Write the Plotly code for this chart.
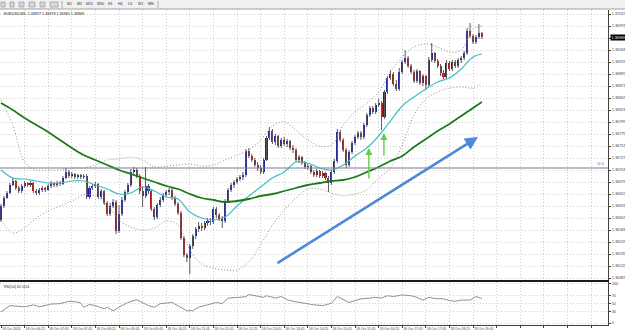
import plotly.graph_objects as go

W, H = 625, 333

# ---------------- data (EURUSD, M5, 18 Oct 2013) ----------------
first_open = 1.36603
close = [
    1.36631, 1.36647, 1.36657, 1.36673, 1.36681, 1.36667, 1.36661, 1.36671, 1.36677, 1.36673,
    1.36677, 1.36661, 1.36657, 1.36663, 1.36667, 1.36663, 1.36671, 1.36677, 1.36673, 1.36677,
    1.36675, 1.36687, 1.36699, 1.36691, 1.36695, 1.36689, 1.36693, 1.36689, 1.36691, 1.36649,
    1.36667, 1.36671, 1.36675, 1.36649, 1.36661, 1.36637, 1.36615, 1.36631, 1.36639, 1.36581,
    1.36615, 1.36643, 1.36659, 1.36673, 1.36699, 1.36703, 1.36691, 1.36661, 1.36651, 1.36671,
    1.36661, 1.36625, 1.36609, 1.36633, 1.36643, 1.36653, 1.36659, 1.36663, 1.36647, 1.36635,
    1.36617, 1.36567, 1.36533, 1.36527, 1.36551, 1.36571, 1.36585, 1.36591, 1.36587, 1.36597,
    1.36601, 1.36599, 1.36625, 1.36613, 1.36605, 1.36601, 1.36641, 1.36663, 1.36673, 1.36679,
    1.36685, 1.36689, 1.36693, 1.36741, 1.36731, 1.36723, 1.36713, 1.36707, 1.36699, 1.36723,
    1.36767, 1.36781, 1.36759, 1.36771, 1.36751, 1.36763, 1.36755, 1.36761, 1.36747, 1.36743,
    1.36723, 1.36729, 1.36717, 1.36709, 1.36711, 1.36699, 1.36693, 1.36701, 1.36691, 1.36697,
    1.36687, 1.36677, 1.36699, 1.36721, 1.36779, 1.36763, 1.36743, 1.36713, 1.36739, 1.36757,
    1.36769, 1.36777, 1.36769, 1.36793, 1.36813, 1.36827, 1.36819, 1.36833, 1.36837, 1.36809,
    1.36859, 1.36887, 1.36895, 1.36875, 1.36865, 1.36899, 1.36919, 1.36927, 1.36911, 1.36899,
    1.36881, 1.36901, 1.36877, 1.36891, 1.36873, 1.36923, 1.36937, 1.36921, 1.36911, 1.36897,
    1.36889, 1.36917, 1.36905, 1.36919, 1.36911, 1.36923, 1.36927, 1.36937, 1.36981, 1.36971,
    1.36959, 1.36969, 1.36977, 1.36969,
]
high = [
    1.36635, 1.36651, 1.36661, 1.36677, 1.36687, 1.36683, 1.36671, 1.36675, 1.36681, 1.36679,
    1.36681, 1.36679, 1.36665, 1.36667, 1.36671, 1.36669, 1.36675, 1.36681, 1.36679, 1.36681,
    1.36681, 1.36691, 1.36707, 1.36703, 1.36699, 1.36697, 1.36695, 1.36695, 1.36695, 1.36695,
    1.36671, 1.36675, 1.36679, 1.36677, 1.36665, 1.36663, 1.36641, 1.36637, 1.36645, 1.36643,
    1.36633, 1.36649, 1.36663, 1.36677, 1.36705, 1.36709, 1.36707, 1.36695, 1.36671, 1.36709,
    1.36675, 1.36665, 1.36629, 1.36637, 1.36649, 1.36657, 1.36663, 1.36667, 1.36667, 1.36651,
    1.36639, 1.36621, 1.36571, 1.36537, 1.36555, 1.36575, 1.36589, 1.36599, 1.36597, 1.36601,
    1.36607, 1.36607, 1.36629, 1.36629, 1.36617, 1.36611, 1.36645, 1.36667, 1.36677, 1.36683,
    1.36689, 1.36693, 1.36699, 1.36745, 1.36747, 1.36735, 1.36727, 1.36719, 1.36713, 1.36727,
    1.36771, 1.36789, 1.36785, 1.36775, 1.36773, 1.36767, 1.36769, 1.36765, 1.36763, 1.36753,
    1.36747, 1.36733, 1.36731, 1.36721, 1.36715, 1.36713, 1.36703, 1.36705, 1.36703, 1.36701,
    1.36699, 1.36691, 1.36703, 1.36725, 1.36785, 1.36783, 1.36767, 1.36747, 1.36743, 1.36761,
    1.36773, 1.36781, 1.36781, 1.36797, 1.36817, 1.36831, 1.36831, 1.36837, 1.36845, 1.36841,
    1.36863, 1.36891, 1.36903, 1.36899, 1.36883, 1.36907, 1.36923, 1.36943, 1.36931, 1.36915,
    1.36903, 1.36905, 1.36903, 1.36895, 1.36893, 1.36929, 1.36957, 1.36939, 1.36925, 1.36915,
    1.36903, 1.36923, 1.36921, 1.36923, 1.36923, 1.36927, 1.36931, 1.36941, 1.36987, 1.36997,
    1.36975, 1.36973, 1.36995, 1.36979,
]
low = [
    1.36599, 1.36627, 1.36645, 1.36655, 1.36671, 1.36663, 1.36657, 1.36657, 1.36667, 1.36669,
    1.36669, 1.36657, 1.36653, 1.36653, 1.36659, 1.36659, 1.36661, 1.36667, 1.36669, 1.36669,
    1.36671, 1.36673, 1.36685, 1.36687, 1.36687, 1.36685, 1.36685, 1.36685, 1.36685, 1.36645,
    1.36645, 1.36663, 1.36667, 1.36645, 1.36645, 1.36633, 1.36611, 1.36611, 1.36627, 1.36575,
    1.36577, 1.36611, 1.36639, 1.36655, 1.36669, 1.36693, 1.36687, 1.36655, 1.36629, 1.36647,
    1.36655, 1.36621, 1.36603, 1.36605, 1.36629, 1.36639, 1.36649, 1.36653, 1.36643, 1.36631,
    1.36613, 1.36563, 1.36529, 1.36519, 1.36495, 1.36545, 1.36565, 1.36579, 1.36581, 1.36583,
    1.36591, 1.36593, 1.36595, 1.36607, 1.36601, 1.36587, 1.36597, 1.36637, 1.36659, 1.36667,
    1.36675, 1.36681, 1.36683, 1.36689, 1.36727, 1.36719, 1.36709, 1.36701, 1.36695, 1.36695,
    1.36721, 1.36763, 1.36755, 1.36753, 1.36747, 1.36747, 1.36751, 1.36749, 1.36743, 1.36737,
    1.36719, 1.36717, 1.36713, 1.36705, 1.36703, 1.36695, 1.36689, 1.36689, 1.36687, 1.36687,
    1.36683, 1.36659, 1.36673, 1.36695, 1.36717, 1.36759, 1.36739, 1.36707, 1.36709, 1.36735,
    1.36753, 1.36765, 1.36763, 1.36765, 1.36789, 1.36809, 1.36815, 1.36815, 1.36829, 1.36783,
    1.36805, 1.36855, 1.36883, 1.36871, 1.36861, 1.36861, 1.36895, 1.36915, 1.36907, 1.36895,
    1.36877, 1.36877, 1.36873, 1.36871, 1.36863, 1.36869, 1.36919, 1.36917, 1.36907, 1.36891,
    1.36885, 1.36885, 1.36901, 1.36901, 1.36907, 1.36907, 1.36917, 1.36923, 1.36933, 1.36967,
    1.36955, 1.36955, 1.36965, 1.36965,
]
open_ = [first_open] + close[:-1]

# indicator readings, one every 4 bars (+ last bar)
ind_bars = [0, 4, 8, 12, 16, 20, 24, 28, 32, 36, 40, 44, 48, 52, 56, 60, 64, 68, 72, 76, 80,
            84, 88, 92, 96, 100, 104, 108, 112, 116, 120, 124, 128, 132, 136, 140, 144, 148,
            152, 156, 160, 163]
ma_slow = [1.36837, 1.36823, 1.36807, 1.36793, 1.36779, 1.36763, 1.36747, 1.36733, 1.36723,
           1.36713, 1.36703, 1.36695, 1.36687, 1.36679, 1.36671, 1.36665, 1.36655, 1.36647,
           1.36643, 1.36639, 1.36641, 1.36645, 1.36651, 1.36655, 1.36661, 1.36667, 1.36673,
           1.36677, 1.36681, 1.36683, 1.36689, 1.36699, 1.36709, 1.36721, 1.36731, 1.36749,
           1.36765, 1.36781, 1.36795, 1.36811, 1.36827, 1.36839]
ma_fast = [1.36703, 1.36687, 1.36685, 1.36681, 1.36677, 1.36677, 1.36681, 1.36681, 1.36673,
           1.36665, 1.36655, 1.36657, 1.36669, 1.36661, 1.36649, 1.36645, 1.36619, 1.36607,
           1.36603, 1.36609, 1.36631, 1.36651, 1.36669, 1.36687, 1.36699, 1.36719, 1.36717,
           1.36707, 1.36703, 1.36713, 1.36731, 1.36747, 1.36771, 1.36801, 1.36831, 1.36849,
           1.36865, 1.36879, 1.36887, 1.36905, 1.36929, 1.36935]
bb_upper = [1.36843, 1.36793, 1.36719, 1.36703, 1.36703, 1.36703, 1.36707, 1.36707, 1.36713,
            1.36723, 1.36725, 1.36729, 1.36723, 1.36709, 1.36711, 1.36713, 1.36715, 1.36711,
            1.36713, 1.36723, 1.36733, 1.36743, 1.36763, 1.36791, 1.36799, 1.36783, 1.36763,
            1.36751, 1.36753, 1.36793, 1.36819, 1.36837, 1.36859, 1.36899, 1.36929, 1.36949,
            1.36955, 1.36949, 1.36939, 1.36943, 1.36985, 1.36991]
bb_lower = [1.36603, 1.36577, 1.36587, 1.36607, 1.36621, 1.36631, 1.36641, 1.36653, 1.36651,
            1.36633, 1.36603, 1.36589, 1.36583, 1.36587, 1.36601, 1.36593, 1.36543, 1.36515,
            1.36507, 1.36503, 1.36503, 1.36519, 1.36553, 1.36593, 1.36623, 1.36647, 1.36665,
            1.36665, 1.36657, 1.36651, 1.36655, 1.36663, 1.36687, 1.36707, 1.36753, 1.36813,
            1.36845, 1.36859, 1.36867, 1.36869, 1.36867, 1.36877]

rsi_bars = [0, 3, 8, 11, 13, 17, 20, 23, 25, 27, 28, 30, 32, 35, 36, 38, 40, 43, 46, 47, 50,
            52, 54, 58, 60, 63, 65, 67, 70, 73, 75, 77, 81, 83, 84, 86, 89, 90, 93, 95, 97, 99,
            101, 104, 106, 109, 112, 114, 116, 118, 120, 122, 125, 127, 129, 131, 133, 136,
            139, 141, 143, 145, 147, 150, 152, 154, 156, 159, 161, 163]
rsi_vals = [28, 44, 41, 46, 41, 48, 49, 55, 54, 51, 40, 47, 44, 36, 40, 31, 40, 52, 59, 55, 44,
            40, 49, 52, 44, 31, 31, 40, 46, 52, 49, 63, 65, 67, 72, 69, 65, 69, 63, 67, 59, 55,
            52, 48, 46, 44, 50, 67, 59, 52, 57, 61, 63, 65, 63, 69, 67, 71, 69, 65, 58, 65,
            62, 61, 57, 55, 58, 58, 67, 62.1114]

hline_price = 1.36707
trend_start = (93.2, 1.36515)
trend_end = (161.7, 1.36769)
green_arrows = [(124.7, 1.36683, 1.36747), (129.8, 1.36729, 1.36777)]

price_ticks = [1.37015, 1.36991, 1.36967, 1.36943, 1.36919, 1.36895, 1.36871, 1.36847,
               1.36823, 1.36799, 1.36775, 1.36751, 1.36727, 1.36703, 1.36679, 1.36655,
               1.36631, 1.36607, 1.36583, 1.36559, 1.36535, 1.36511, 1.36487]
time_bars = [0, 8, 16, 24, 32, 40, 48, 56, 64, 72, 80, 88, 96, 104, 112, 120, 128, 136, 144,
             152, 160, 168, 176, 184, 192, 200]
time_labels = ["18 Oct 2013", "18 Oct 06:25", "18 Oct 07:05", "18 Oct 07:45", "18 Oct 08:25",
               "18 Oct 09:05", "18 Oct 09:45", "18 Oct 10:25", "18 Oct 11:05", "18 Oct 11:45",
               "18 Oct 12:25", "18 Oct 13:05", "18 Oct 13:45", "18 Oct 14:25", "18 Oct 15:05",
               "18 Oct 15:45", "18 Oct 16:25", "18 Oct 17:05", "18 Oct 17:45", "18 Oct 18:25",
               "18 Oct 19:05", "", "", "", "", ""]
rsi_ticks = [100, 70, 50, 30, 0]
timeframes = ["M1", "M5", "M15", "M30", "H1", "H4", "D1", "W1", "MN"]
symbol = "EURUSD,M5"

# ---------------- layout helpers (pixel -> paper) ----------------
def PX(x):
    return x / W

def PY(y):
    return 1 - y / H

FONT = "Liberation Sans, Arial, sans-serif"
BULL = "#1f1fa8"
BEAR = "#b01c1c"
WICK = "#5a5a5a"
GRID = "#cfcfcf"
GDASH = "1px,2px"

n = len(close)
bars = list(range(n))

fig = go.Figure()

# wicks
wx, wy = [], []
for i in bars:
    lo = min(low[i], open_[i], close[i])
    hi = max(high[i], open_[i], close[i])
    wx += [i, i, None]
    wy += [lo, hi, None]
fig.add_trace(go.Scatter(x=wx, y=wy, mode="lines", line=dict(color=WICK, width=1),
                         hoverinfo="skip", showlegend=False))

# bodies
MINH = 0.000012
for up, col in ((True, BULL), (False, BEAR)):
    idx = [i for i in bars if (close[i] >= open_[i]) == up]
    fig.add_trace(go.Bar(
        x=idx,
        base=[min(open_[i], close[i]) for i in idx],
        y=[max(abs(close[i] - open_[i]), MINH) for i in idx],
        width=0.7, marker=dict(color=col, line=dict(width=0)),
        hoverinfo="skip", showlegend=False))

# Bollinger bands
for band in (bb_upper, bb_lower):
    fig.add_trace(go.Scatter(x=ind_bars, y=band, mode="lines",
                             line=dict(color="#8f8f8f", width=1, dash="1px,2px", shape="spline"),
                             hoverinfo="skip", showlegend=False))
# moving averages
fig.add_trace(go.Scatter(x=ind_bars, y=ma_fast, mode="lines",
                         line=dict(color="#3fbfc6", width=1.2, shape="spline"),
                         hoverinfo="skip", showlegend=False))
fig.add_trace(go.Scatter(x=ind_bars, y=ma_slow, mode="lines",
                         line=dict(color="#1c7a1c", width=1.8, shape="spline"),
                         hoverinfo="skip", showlegend=False))

# RSI
fig.add_trace(go.Scatter(x=rsi_bars, y=rsi_vals, mode="lines", xaxis="x2", yaxis="y2",
                         line=dict(color="#9a8a9e", width=1),
                         hoverinfo="skip", showlegend=False))

XR = [-0.34, 205.76]
XD = [0, 608 / W]

fig.update_layout(
    width=W, height=H,
    margin=dict(l=0, r=0, t=0, b=0),
    paper_bgcolor="white", plot_bgcolor="white",
    barmode="overlay", bargap=0,
    font=dict(family=FONT, size=4, color="#303030"),
    showlegend=False,
    xaxis=dict(domain=XD, range=XR, anchor="y", tickvals=time_bars, showticklabels=False,
               showgrid=True, gridcolor=GRID, griddash=GDASH, gridwidth=1, zeroline=False,
               ticks=""),
    yaxis=dict(domain=[PY(280.5), PY(10)], range=[1.36482, 1.37023], side="right",
               tickvals=price_ticks, ticktext=[f"{v:.5f}" for v in price_ticks],
               tickfont=dict(size=3.8, color="#404040"), ticks="outside", ticklen=2,
               tickcolor="#404040", showgrid=True, gridcolor=GRID, griddash=GDASH,
               zeroline=False, showline=True, linecolor="#404040", linewidth=1),
    xaxis2=dict(domain=XD, range=XR, anchor="y2", matches="x", tickvals=time_bars,
                ticktext=time_labels, ticklabelposition="outside right", tickangle=0,
                tickfont=dict(size=3.4, color="#404040"), ticks="outside", ticklen=2,
                tickcolor="#404040", showgrid=True, gridcolor=GRID, griddash=GDASH,
                zeroline=False, showline=True, linecolor="#404040"),
    yaxis2=dict(domain=[PY(325), PY(282)], range=[-5, 103.75], side="right",
                tickvals=rsi_ticks, ticktext=[str(v) for v in rsi_ticks],
                tickfont=dict(size=3.8, color="#404040"), ticks="outside", ticklen=2,
                tickcolor="#404040", showgrid=True, gridcolor=GRID, griddash=GDASH,
                zeroline=False, showline=True, linecolor="#404040"),
)

shapes = []
# toolbar
shapes.append(dict(type="rect", xref="paper", yref="paper", x0=0, x1=1, y0=PY(9), y1=1,
                   fillcolor="#f0f0f0", line=dict(width=0), layer="below"))
shapes.append(dict(type="line", xref="paper", yref="paper", x0=0, x1=1, y0=PY(9), y1=PY(9),
                   line=dict(color="#a0a0a0", width=1)))
for x0, x1 in ((1, 5), (10, 14), (19, 24), (29, 35), (40, 45), (50, 58)):
    shapes.append(dict(type="rect", xref="paper", yref="paper", x0=PX(x0), x1=PX(x1),
                       y0=PY(7), y1=PY(2), fillcolor="#d8d8d8",
                       line=dict(color="#8a8a8a", width=0.6)))
for xs in (62, 158):
    shapes.append(dict(type="line", xref="paper", yref="paper", x0=PX(xs), x1=PX(xs),
                       y0=PY(8), y1=PY(1), line=dict(color="#b0b0b0", width=1)))
# horizontal line object
shapes.append(dict(type="line", xref="paper", yref="y", x0=0, x1=PX(608), y0=hline_price,
                   y1=hline_price, line=dict(color="#7d7894", width=1)))
# pane separator
shapes.append(dict(type="line", xref="paper", yref="paper", x0=0, x1=PX(609), y0=PY(281),
                   y1=PY(281), line=dict(color="#1a1a1a", width=2)))
fig.update_layout(shapes=shapes)

ann = []
for k, tf in enumerate(timeframes):
    ann.append(dict(xref="paper", yref="paper", x=PX(69.5 + 10.2 * k), y=PY(4.5), text=tf,
                    showarrow=False, font=dict(size=3.6, color="#303030"),
                    xanchor="center", yanchor="middle"))
ann.append(dict(xref="paper", yref="paper", x=PX(2), y=PY(13.5),
                text=f"{symbol}  {open_[-1]:.5f} {high[-1]:.5f} {low[-1]:.5f} {close[-1]:.5f}",
                showarrow=False, font=dict(size=3.7, color="#202020"),
                xanchor="left", yanchor="middle"))
ann.append(dict(xref="paper", yref="paper", x=PX(2), y=PY(287),
                text=f"RSI(14) {rsi_vals[-1]:.4f}", showarrow=False,
                font=dict(size=3.5, color="#202020"), xanchor="left", yanchor="middle"))
ann.append(dict(xref="paper", yref="y", x=PX(609.5), y=close[-1], text=f"{close[-1]:.5f}",
                showarrow=False, font=dict(size=3.8, color="white"), bgcolor="black",
                xanchor="left", yanchor="middle", borderpad=0.5))
ann.append(dict(xref="paper", yref="y", x=PX(606), y=hline_price, text="11.6",
                showarrow=False, font=dict(size=3.8, color="#7d5a9a"),
                xanchor="right", yanchor="bottom"))
# trend arrow
ann.append(dict(xref="x", yref="y", axref="x", ayref="y", x=trend_end[0], y=trend_end[1],
                ax=trend_start[0], ay=trend_start[1], text="", showarrow=True,
                arrowhead=2, arrowsize=1, arrowwidth=2.6, arrowcolor="#4a8ad8"))
for gx, y0, y1 in green_arrows:
    ann.append(dict(xref="x", yref="y", axref="x", ayref="y", x=gx, y=y1, ax=gx, ay=y0,
                    text="", showarrow=True, arrowhead=2, arrowsize=1, arrowwidth=1.4,
                    arrowcolor="#5fd04a"))
fig.update_layout(annotations=ann)

fig.write_html("out.html", config={"displayModeBar": False})
